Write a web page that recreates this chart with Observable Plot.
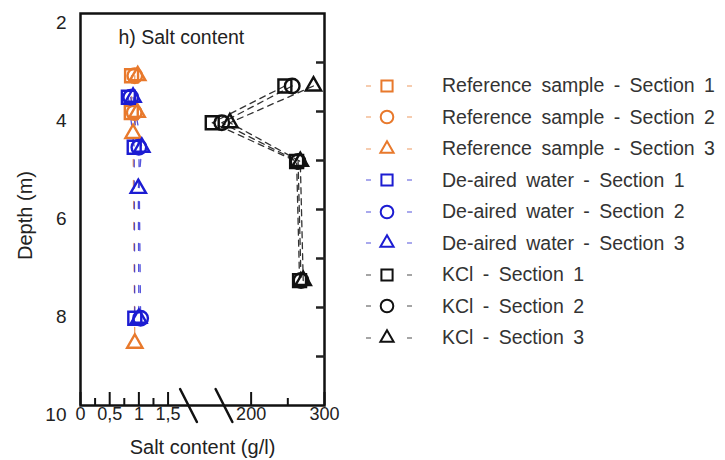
<!DOCTYPE html>
<html><head><meta charset="utf-8">
<script src="https://cdn.jsdelivr.net/npm/d3@7"></script>
<script src="https://cdn.jsdelivr.net/npm/@observablehq/plot@0.6"></script>
<style>
html,body{margin:0;padding:0;background:#fff;}
#wrap{position:relative;width:725px;height:460px;font-family:"Liberation Sans",Arial,sans-serif;overflow:hidden;}
#chart{position:absolute;left:0;top:0;}
#legend{position:absolute;left:356px;top:70px;}
.row{display:flex;align-items:center;height:31.5px;}
.row svg{flex:none;display:block;}
.row span{font-size:19.5px;color:#333;white-space:nowrap;word-spacing:4px;}
</style></head><body>
<div id="wrap"><div id="chart"></div><div id="legend"></div></div>
<script>
// ---- series definitions ----
const seriesNames = [
  "Reference sample - Section 1", "Reference sample - Section 2", "Reference sample - Section 3",
  "De-aired water - Section 1", "De-aired water - Section 2", "De-aired water - Section 3",
  "KCl - Section 1", "KCl - Section 2", "KCl - Section 3"
];
const seriesColors = ["#e8792c","#e8792c","#e8792c","#1c1cd2","#1c1cd2","#1c1cd2","#111111","#111111","#111111"];
const seriesSymbols = ["square","circle","triangle2","square","circle","triangle2","square","circle","triangle2"];

// ---- values (depth in m, salt content in g/l) ----
const refDepths = [3.27, 4.02, 4.45, 8.73];
const refSec1 = [0.875, 0.87, null, null];
const refSec2 = [0.93, 0.92, null, null];
const refSec3 = [0.98, 0.97, 0.9, 0.93];

const deDepths = [3.71, 4.73, 5.57, 8.22];
const deSec1 = [0.82, 0.92, null, 0.93];
const deSec2 = [0.86, 1.0, null, 1.03];
const deSec3 = [0.9, 1.05, 0.99, 1.0];

const kclDepths = [3.48, 4.23, 5.02, 7.45];
const kclSec1 = [246, 147, 262, 266];
const kclSec2 = [256, 160, 264, 268];
const kclSec3 = [285, 171, 267, 271];

// ---- axis ticks ----
const xMajorTicks = [0, 0.5, 1, 1.5, 200, 300];
const xMajorLabels = ["0", "0,5", "1", "1,5", "200", "300"];
const xMinorTicks = [0.25, 0.75, 1.25, 250];
const xBreaks = [1.85, 163];
const yLabelTicks = [2, 4, 6, 8, 10];
const yRightTicks = [3, 4, 5, 6, 7, 8, 9];

const depthSets = [refDepths, refDepths, refDepths, deDepths, deDepths, deDepths, kclDepths, kclDepths, kclDepths];
const valueSets = [refSec1, refSec2, refSec3, deSec1, deSec2, deSec3, kclSec1, kclSec2, kclSec3];

const table = [];
seriesNames.forEach((name, i) => {
  depthSets[i].forEach((d, j) => {
    const v = valueSets[i][j];
    if (v != null) table.push({series: name, group: i < 6 ? "low" : "kcl", depth: d, salt: v});
  });
});
const lowTable = table.filter(d => d.group === "low");
const kclTable = table.filter(d => d.group === "kcl");

const labelOf = new Map(xMajorTicks.map((v, i) => [v, xMajorLabels[i]]));
const slash = {draw(ctx, l) { ctx.moveTo(0, 0); ctx.lineTo(0, -l); }};

const W = 340, H = 460, MT = 13, MB = 55;
const frameH = H - MT - MB;

const chart = Plot.plot({
  width: W, height: H,
  marginLeft: 80, marginRight: 16, marginTop: MT, marginBottom: MB,
  style: {fontFamily: "'Liberation Sans', Arial, sans-serif", color: "#222", background: "white", overflow: "visible"},
  x: {type: "linear", domain: [0, 1.85, 116, 300], range: [80, 188, 189, 324], axis: null},
  y: {type: "linear", domain: [2, 10], reverse: true, axis: null},
  color: {domain: seriesNames, range: seriesColors},
  symbol: {domain: seriesNames, range: seriesSymbols},
  marks: [
    Plot.line(lowTable, {x: "salt", y: "depth", z: "series", stroke: "series", strokeDasharray: "7,14", strokeWidth: 1.3, strokeOpacity: 0.75}),
    Plot.line(kclTable, {x: "salt", y: "depth", z: "series", stroke: "#333", strokeDasharray: "6,5", strokeWidth: 1.3}),
    Plot.dot(table, {x: "salt", y: "depth", symbol: "series", stroke: "series", r: 7.3, strokeWidth: 2.4}),
    Plot.frame({strokeWidth: 2.5, stroke: "#111"}),
    Plot.ruleX(xMajorTicks, {x: d => d, insetTop: frameH - 13, stroke: "#111", strokeWidth: 2}),
    Plot.ruleX(xMinorTicks, {x: d => d, insetTop: frameH - 7, stroke: "#111", strokeWidth: 2}),
    Plot.axisX({ticks: xMajorTicks, tickSize: 0, tickPadding: 2, tickFormat: d => labelOf.get(d), fontSize: 18, label: null}),
    Plot.axisY({anchor: "right", ticks: yRightTicks, tickSize: -9, fill: null, strokeWidth: 2.5, label: null}),
    Plot.axisY({ticks: yLabelTicks, tickSize: 0, tickPadding: 14, dy: 9, fontSize: 19, label: null}),
    Plot.vector(xBreaks, {x: d => d, frameAnchor: "bottom", rotate: -27, length: 37, anchor: "middle", shape: slash, strokeWidth: 2.5, stroke: "#111"}),
    Plot.text(["h) Salt content"], {frameAnchor: "top-left", dx: 38, dy: 24, textAnchor: "start", lineAnchor: "middle", fontSize: 19.5, fill: "#222"}),
    Plot.text(["Depth (m)"], {frameAnchor: "left", dx: -55, dy: 6, rotate: -90, textAnchor: "middle", lineAnchor: "middle", fontSize: 20, fill: "#222"}),
    Plot.text(["Salt content (g/l)"], {frameAnchor: "bottom", dy: 42, textAnchor: "middle", lineAnchor: "middle", fontSize: 20, fill: "#222"})
  ]
});
document.getElementById("chart").appendChild(chart);

// ---- legend ----
const symbolTypes = {square: d3.symbolSquare, circle: d3.symbolCircle, triangle2: d3.symbolTriangle2};
const legend = d3.select("#legend");
seriesNames.forEach((name, i) => {
  const row = legend.append("div").attr("class", "row");
  const svg = row.append("svg").attr("width", 86).attr("height", 24);
  svg.append("line").attr("x1", 10).attr("x2", 15).attr("y1", 12).attr("y2", 12)
    .attr("stroke", seriesColors[i]).attr("stroke-opacity", 0.5).attr("stroke-width", 1.5);
  svg.append("line").attr("x1", 51).attr("x2", 56).attr("y1", 12).attr("y2", 12)
    .attr("stroke", seriesColors[i]).attr("stroke-opacity", 0.5).attr("stroke-width", 1.5);
  svg.append("path")
    .attr("transform", "translate(31,12)")
    .attr("d", d3.symbol(symbolTypes[seriesSymbols[i]], 125)())
    .attr("fill", "none").attr("stroke", seriesColors[i]).attr("stroke-width", 2);
  row.append("span").text(name);
});
</script>
</body></html>
